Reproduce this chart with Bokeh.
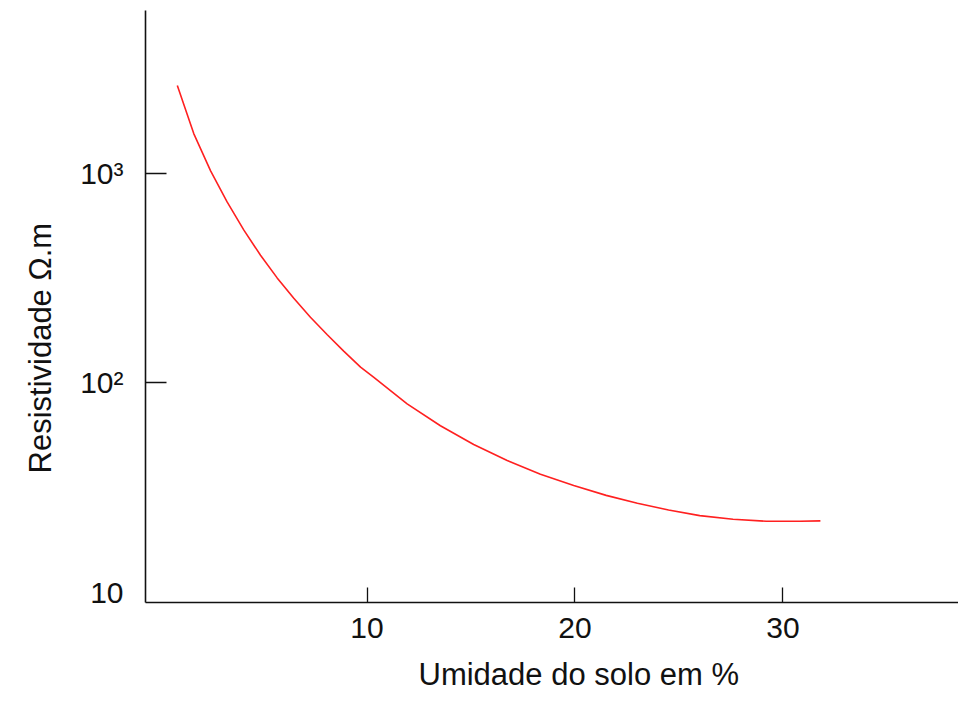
from bokeh.plotting import figure
from bokeh.models import LogAxis, FixedTicker, ColumnDataSource, Range1d, Title
from bokeh.embed import file_html
from bokeh.resources import INLINE

# Data
moisture = [0.88, 1.67, 2.48, 3.28, 4.08, 4.88, 5.68, 6.48, 7.28, 8.09, 8.88, 9.69,
            10.33, 11.93, 13.53, 15.13, 16.74, 18.34, 19.94, 21.5, 23.0, 24.5,
            26.0, 27.6, 29.2, 30.8, 31.8]
resistivity = [2646, 1558, 1034, 732, 538, 408, 318, 254, 206, 170, 142, 119,
               106.4, 79.4, 62.4, 50.8, 42.6, 36.6, 32.3, 29.0, 26.6, 24.7,
               23.2, 22.3, 21.8, 21.8, 21.9]
x_ticks = [10, 20, 30]
y_ticks = [10, 100, 1000]
y_tick_labels = ["10", "10²", "10³"]
x_title = "Umidade do solo em %"
y_title = "Resistividade Ω.m"

FONT = "Liberation Sans"
INK = "#111111"

p = figure(width=958, height=707, output_backend="svg", toolbar_location=None,
           y_axis_type="log",
           x_range=Range1d(-0.65, 38.44), y_range=Range1d(8.916, 6040),
           min_border_left=145, min_border_right=0, min_border_top=10,
           min_border_bottom=105)
p.outline_line_color = None
p.xgrid.visible = False
p.ygrid.visible = False
p.background_fill_color = "white"
p.border_fill_color = "white"

src = ColumnDataSource(dict(x=moisture, y=resistivity))
p.line("x", "y", source=src, line_color="#ff2020", line_width=1.6)

# x axis
xa = p.xaxis[0]
xa.ticker = FixedTicker(ticks=x_ticks)
xa.major_tick_in = 15
xa.major_tick_out = 0
xa.minor_tick_line_color = None
xa.axis_line_color = INK
xa.axis_line_width = 1.6
xa.major_tick_line_color = INK
xa.major_tick_line_width = 1.3
xa.major_label_text_font = FONT
xa.major_label_text_font_size = "30px"
xa.major_label_text_color = INK
xa.major_label_standoff = 15

# inner y axis: line and inward ticks only
ya = p.yaxis[0]
ya.ticker = FixedTicker(ticks=y_ticks[1:])
ya.major_tick_in = 21
ya.major_tick_out = 0
ya.minor_tick_line_color = None
ya.axis_line_color = INK
ya.axis_line_width = 1.6
ya.major_tick_line_color = INK
ya.major_tick_line_width = 1.3
ya.major_label_text_font_size = "1px"
ya.major_label_text_color = None
ya.major_label_standoff = 0

# outer y axis: labels only
yl = LogAxis(ticker=FixedTicker(ticks=y_ticks),
             major_label_overrides={t: s for t, s in zip(y_ticks, y_tick_labels)})
yl.axis_line_color = None
yl.major_tick_line_color = None
yl.minor_tick_line_color = None
yl.major_tick_out = 0
yl.major_tick_in = 0
yl.major_label_text_font = FONT
yl.major_label_text_font_size = "30px"
yl.major_label_text_color = INK
yl.major_label_standoff = 22
p.add_layout(yl, "left")

# axis titles as side-panel titles (off-centre like the reference)
p.add_layout(Title(text=x_title, align="left", offset=273, standoff=29,
                   text_font=FONT, text_font_size="31px", text_font_style="normal",
                   text_color=INK), "below")
p.add_layout(Title(text=y_title, align="left", offset=129, standoff=39,
                   text_font=FONT, text_font_size="31px", text_font_style="normal",
                   text_color=INK), "left")

open("out.html", "w").write(file_html(p, INLINE))
